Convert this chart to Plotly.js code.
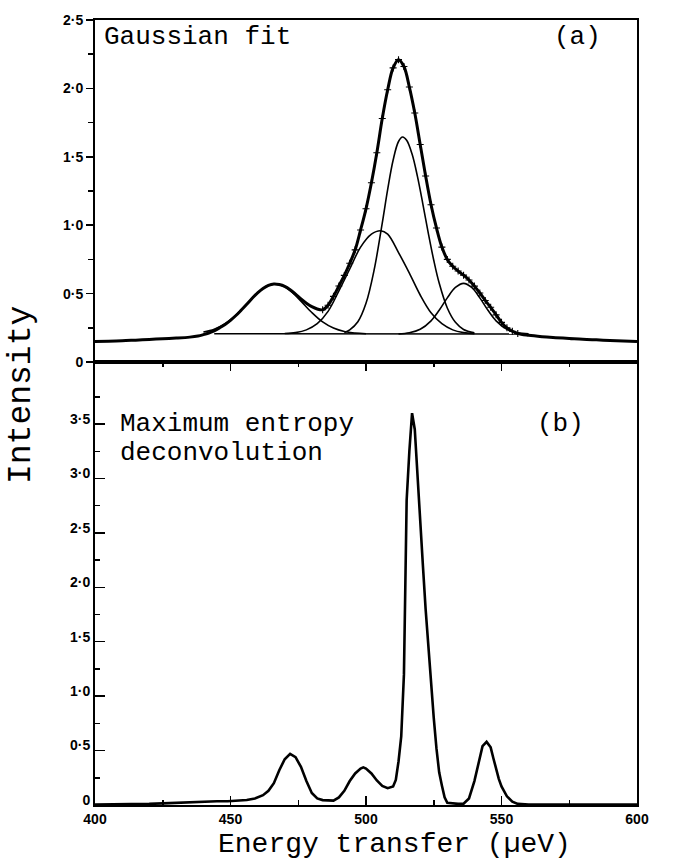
<!DOCTYPE html>
<html><head><meta charset="utf-8">
<script src="https://cdn.plot.ly/plotly-3.0.1.min.js"></script>
<style>body{margin:0;background:#fff}#chart{width:680px;height:860px}</style>
</head><body><div id="chart"></div>
<script>
// ---------- Panel (a): Gaussian fit ----------
const totalE = [400,405,410,415,420,425,430,435,438,440,442,444,446,448,450,452,454,456,458,460,462,464,466,468,470,472,474,476,478,480,482,484,486,488,490,492,494,496,498,500,502,504,506,508,510,512,514,516,518,520,522,524,526,528,530,532,534,536,538,540,542,544,546,548,550,552,554,556,560,565,570,575,580,585,590,595,600];
const totalV = [0.150,0.152,0.155,0.160,0.165,0.170,0.175,0.182,0.190,0.200,0.212,0.228,0.250,0.275,0.305,0.340,0.380,0.422,0.466,0.505,0.537,0.560,0.570,0.566,0.553,0.528,0.496,0.461,0.430,0.405,0.388,0.382,0.415,0.480,0.556,0.633,0.722,0.820,0.965,1.12,1.31,1.53,1.78,1.99,2.15,2.21,2.16,2.01,1.82,1.59,1.36,1.15,0.98,0.84,0.75,0.70,0.665,0.635,0.60,0.555,0.505,0.45,0.40,0.345,0.29,0.25,0.225,0.208,0.195,0.185,0.178,0.172,0.166,0.162,0.158,0.154,0.150];

const baseE = [444, 558];
const baseV = [0.207, 0.205];

const leftE = [440,444,448,452,456,460,463,466.5,470,473,476,480,484,488,492,496,500];
const leftV = [0.219,0.240,0.280,0.343,0.424,0.505,0.550,0.570,0.550,0.505,0.445,0.362,0.293,0.248,0.223,0.212,0.207];

const broadE = [470,474,478,482,486,490,494,498,502,505.4,508,512,516,520,524,528,532,536,540];
const broadV = [0.208,0.215,0.235,0.28,0.37,0.52,0.68,0.84,0.935,0.96,0.935,0.80,0.65,0.49,0.36,0.28,0.235,0.215,0.207];

const narrowE = [492,494,497,500,503,506,508,510,512,513.5,515,517,519,521,523,525,527,530,533,536,540];
const narrowV = [0.215,0.235,0.294,0.429,0.673,1.016,1.262,1.475,1.612,1.645,1.621,1.52,1.355,1.153,0.941,0.744,0.577,0.395,0.290,0.238,0.213];

const rightE = [512,516,520,524,527,530,533,536,539,542,545,548,552,556,560];
const rightV = [0.206,0.214,0.239,0.301,0.378,0.469,0.545,0.575,0.545,0.469,0.378,0.301,0.239,0.214,0.207];

// ---------- Panel (b): Maximum entropy deconvolution ----------
const meE = [400,410,420,425,430,435,440,445,449,453,456,459,462,464,466,468,470,472,474,476,478,480,482,484,486,488,490,492,494,496,498,499,500,502,504,506,508,510,511,512,513,514,514.5,515,516,517,518,519,520,521,522,523,524,525,526,527,528,529,530,532,534,536,538,540,541,542,543,544.5,546,547,548,549,550,552,554,556,560,580,600];
const meV = [0.005,0.005,0.01,0.015,0.02,0.03,0.035,0.035,0.035,0.04,0.046,0.06,0.09,0.13,0.2,0.32,0.42,0.47,0.44,0.35,0.22,0.11,0.06,0.045,0.04,0.04,0.07,0.13,0.22,0.29,0.335,0.346,0.335,0.29,0.225,0.175,0.155,0.17,0.23,0.4,0.63,1.2,2.0,2.8,3.25,3.6,3.45,3.0,2.6,2.2,1.8,1.45,1.1,0.8,0.52,0.3,0.18,0.07,0.02,0.012,0.01,0.012,0.06,0.22,0.33,0.45,0.54,0.58,0.53,0.43,0.33,0.24,0.17,0.08,0.03,0.01,0.005,0.005,0.005];

// ---------- Ticks ----------
const xTicks = [400,450,500,550,600];
const xTickText = ['400','450','500','550','600'];
const xMinor = [425,475,525,575];
const yTopTicks = [0,0.5,1,1.5,2,2.5];
const yTopText = ['0','0·5','1·0','1·5','2·0','2·5'];
const yTopMinor = [0.25,0.75,1.25,1.75,2.25];
const yBotTicks = [0,0.5,1,1.5,2,2.5,3,3.5];
const yBotText = ['0','0·5','1·0','1·5','2·0','2·5','3·0','3·5'];
const yBotMinor = [0.25,0.75,1.25,1.75,2.25,2.75,3.25,3.75];

const K = '#000';
const thinS = {color:K, width:1.6, shape:'spline'};
const markPairs = totalE.map((e,i)=>[e,totalV[i]]).filter(p=>p[0]>=484&&p[0]<=556);

const traces = [
  {x: baseE, y: baseV, xaxis:'x2', yaxis:'y2', mode:'lines', line: {color:K, width:1.6}},
  {x: leftE, y: leftV, xaxis:'x2', yaxis:'y2', mode:'lines', line: thinS},
  {x: broadE, y: broadV, xaxis:'x2', yaxis:'y2', mode:'lines', line: thinS},
  {x: narrowE, y: narrowV, xaxis:'x2', yaxis:'y2', mode:'lines', line: thinS},
  {x: rightE, y: rightV, xaxis:'x2', yaxis:'y2', mode:'lines', line: thinS},
  {x: totalE, y: totalV, xaxis:'x2', yaxis:'y2', mode:'lines', line: {color:K, width:3, shape:'spline'}},
  {x: markPairs.map(p=>p[0]), y: markPairs.map(p=>p[1]), xaxis:'x2', yaxis:'y2', mode:'markers', marker: {symbol:'cross-thin', size:5, line:{color:K, width:1.1}}},
  {x: meE, y: meV, xaxis:'x', yaxis:'y', mode:'lines', line: {color:K, width:2.6}}
];

const tickFont = {family:'Liberation Sans, Arial, sans-serif', size:14, color:K, weight:'bold'};
const mono = 'Liberation Mono, DejaVu Sans Mono, monospace';
const split = 0.5643;

const layout = {
  width: 680, height: 860,
  margin: {l:95, r:43, t:20, b:55},
  paper_bgcolor:'#fff', plot_bgcolor:'#fff',
  showlegend: false,
  xaxis: {
    domain:[0,1], range:[400,600], anchor:'y',
    tickmode:'array', tickvals:xTicks, ticktext:xTickText,
    ticks:'inside', ticklen:9, tickwidth:1.5, tickcolor:K, ticklabelstandoff:0,
    minor:{tickmode:'array', tickvals:xMinor, ticks:'inside', ticklen:5, tickwidth:1.5, tickcolor:K},
    showline:true, linewidth:2, linecolor:K, mirror:'ticks',
    showgrid:false, zeroline:false, tickfont: tickFont
  },
  yaxis: {
    domain:[0, split], range:[0, 4.07], anchor:'x',
    tickmode:'array', tickvals:yBotTicks, ticktext:yBotText,
    ticks:'inside', ticklen:10, tickwidth:1.5, tickcolor:K, ticklabelshift:-5,
    minor:{tickmode:'array', tickvals:yBotMinor, ticks:'inside', ticklen:5, tickwidth:1.5, tickcolor:K},
    showline:true, linewidth:2, linecolor:K, mirror:true,
    showgrid:false, zeroline:false, tickfont: tickFont
  },
  xaxis2: {
    domain:[0,1], range:[400,600], anchor:'y2', matches:'x',
    showticklabels:false, ticks:'',
    showline:true, linewidth:2, linecolor:K, mirror:true,
    showgrid:false, zeroline:false
  },
  yaxis2: {
    domain:[split, 1], range:[0, 2.5], anchor:'x2',
    tickmode:'array', tickvals:yTopTicks, ticktext:yTopText,
    ticks:'outside', ticklen:7, tickwidth:1.5, tickcolor:K,
    minor:{tickmode:'array', tickvals:yTopMinor, ticks:'outside', ticklen:5, tickwidth:1.5, tickcolor:K},
    showline:true, linewidth:2, linecolor:K, mirror:true,
    showgrid:false, zeroline:false, tickfont: tickFont
  },
  annotations: [
    {xref:'x2', yref:'y2', x:402.6, y:2.376, text:'Gaussian fit', xanchor:'left', yanchor:'middle', showarrow:false, font:{family:mono, size:26, color:K}},
    {xref:'x2', yref:'y2', x:568.6, y:2.376, text:'(a)', xanchor:'left', yanchor:'middle', showarrow:false, font:{family:mono, size:26, color:K}},
    {xref:'x', yref:'y', x:408.5, y:3.50, text:'Maximum entropy', xanchor:'left', yanchor:'middle', showarrow:false, font:{family:mono, size:26, color:K}},
    {xref:'x', yref:'y', x:408.5, y:3.23, text:'deconvolution', xanchor:'left', yanchor:'middle', showarrow:false, font:{family:mono, size:26, color:K}},
    {xref:'x', yref:'y', x:562.4, y:3.50, text:'(b)', xanchor:'left', yanchor:'middle', showarrow:false, font:{family:mono, size:26, color:K}},
    {xref:'paper', yref:'paper', x:-0.1347, y:0.5223, text:'Intensity', textangle:-90, xanchor:'center', yanchor:'middle', showarrow:false, font:{family:mono, size:33, color:K}},
    {xref:'paper', yref:'paper', x:0.5535, y:-0.0497, text:'Energy transfer (µeV)', xanchor:'center', yanchor:'middle', showarrow:false, font:{family:mono, size:28, color:K}}
  ]
};

Plotly.newPlot('chart', traces, layout, {staticPlot:true, displayModeBar:false});
</script></body></html>
